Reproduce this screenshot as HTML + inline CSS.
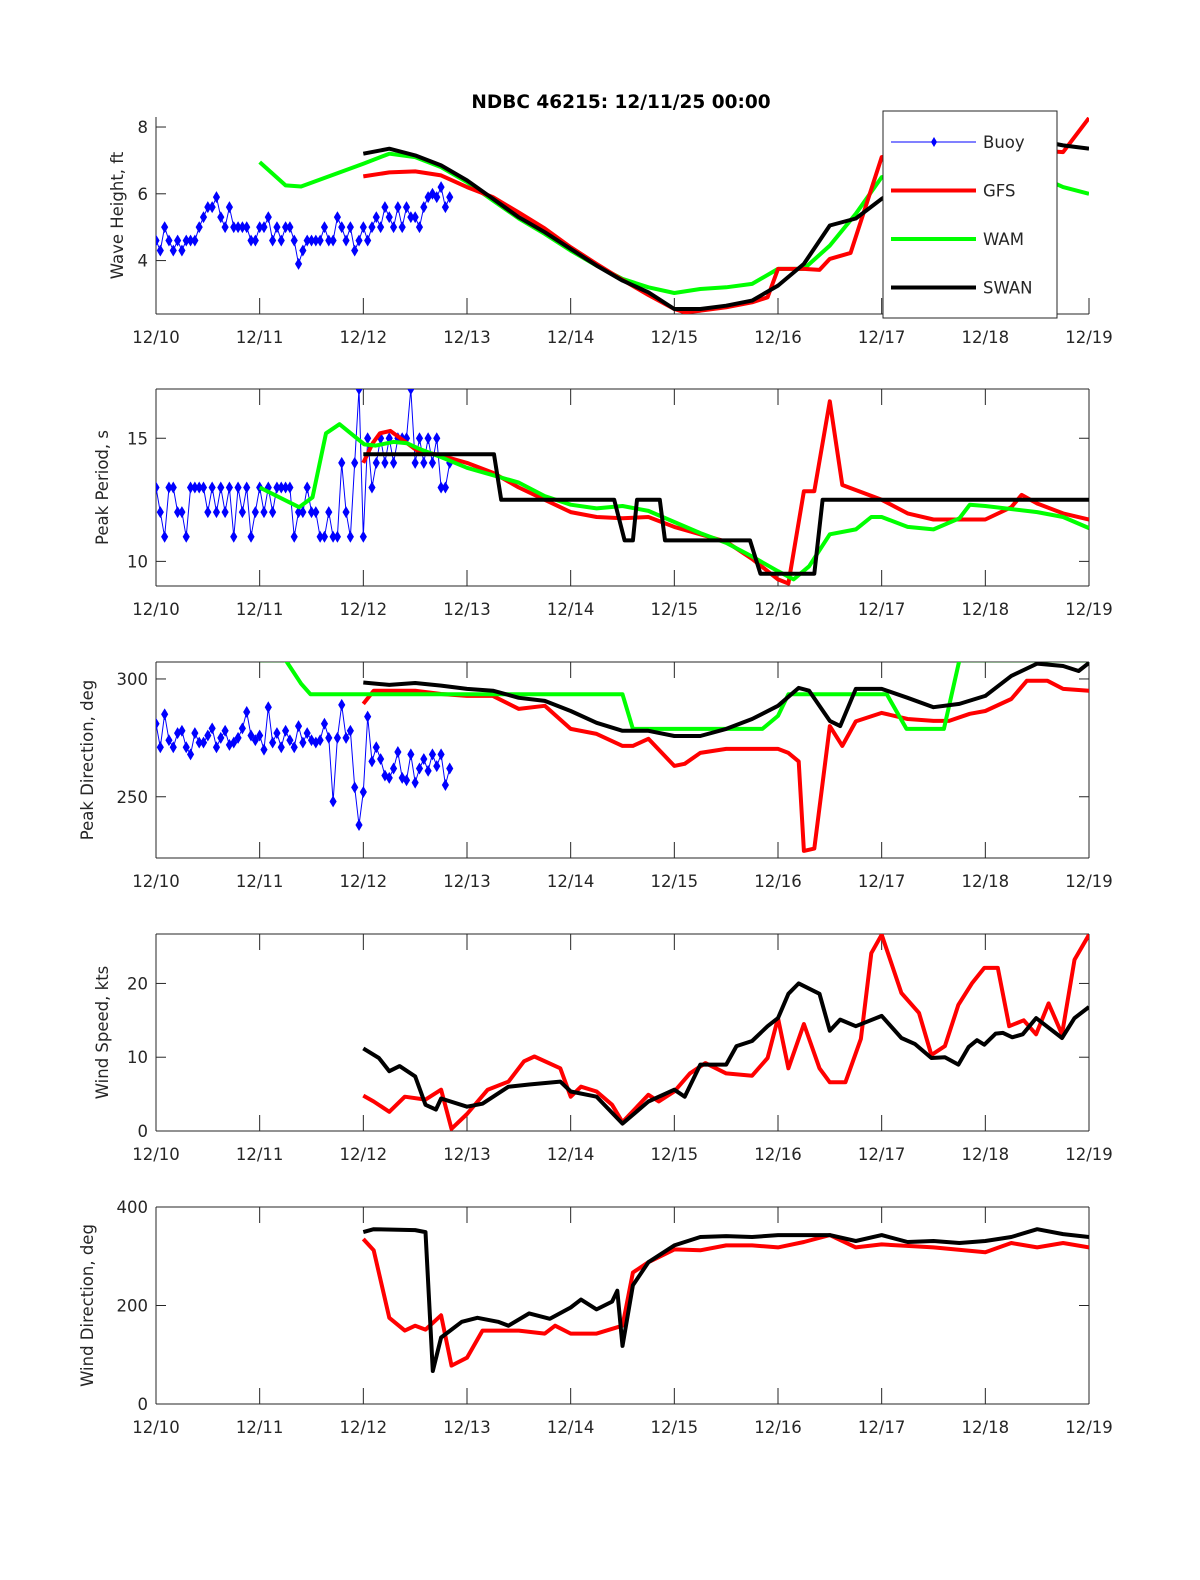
<!DOCTYPE html>
<html><head><meta charset="utf-8"><style>
html,body{margin:0;padding:0;background:#fff;}
svg text{font-family:"DejaVu Sans","Liberation Sans",sans-serif;font-size:16.5px;fill:#262626;}
</style></head><body>
<svg id="fig" width="1200" height="1575" viewBox="0 0 1200 1575" xmlns="http://www.w3.org/2000/svg">
<rect width="1200" height="1575" fill="#fff"/>
<text x="621" y="108" text-anchor="middle" style="font-weight:bold;fill:#000;font-size:18.5px">NDBC 46215: 12/11/25 00:00</text>
</svg>
<script>
// ---- shared axis data ----
const dayLabels = ["12/10","12/11","12/12","12/13","12/14","12/15","12/16","12/17","12/18","12/19"];

// ---- buoy observations (hourly from 12/10 00:00) ----
const buoyH = [4.6,4.3,5.0,4.6,4.3,4.6,4.3,4.6,4.6,4.6,5.0,5.3,5.6,5.6,5.9,5.3,5.0,5.6,5.0,5.0,5.0,5.0,4.6,4.6,5.0,5.0,5.3,4.6,5.0,4.6,5.0,5.0,4.6,3.9,4.3,4.6,4.6,4.6,4.6,5.0,4.6,4.6,5.3,5.0,4.6,5.0,4.3,4.6,5.0,4.6,5.0,5.3,5.0,5.6,5.3,5.0,5.6,5.0,5.6,5.3,5.3,5.0,5.6,5.9,6.0,5.9,6.2,5.6,5.9];
const buoyP = [13,12,11,13,13,12,12,11,13,13,13,13,12,13,12,13,12,13,11,13,12,13,11,12,13,12,13,12,13,13,13,13,11,12,12,13,12,12,11,11,12,11,11,14,12,11,14,17,11,15,13,14,15,14,15,14,15,15,15,17,14,15,14,15,14,15,13,13,14];
const buoyD = [281,271,285,274,271,277,278,271,268,277,273,273,276,279,271,275,278,272,273,275,279,286,276,274,276,270,288,273,277,271,278,274,271,280,273,277,274,273,274,281,275,248,275,289,275,278,254,238,252,284,265,271,266,259,258,262,269,258,257,268,256,262,266,261,268,263,268,255,262];

// ---- panel 1: wave height (ft) ----
const gfsT1 = [2,2.25,2.5,2.75,3,3.25,3.5,3.75,4,4.25,4.5,4.75,5,5.1,5.25,5.5,5.75,5.9,6,6.25,6.4,6.5,6.7,7,7.5,8,8.5,8.75,9];
const gfsH  = [6.52,6.64,6.67,6.55,6.2,5.9,5.44,4.96,4.4,3.9,3.42,2.97,2.55,2.45,2.5,2.6,2.75,2.9,3.75,3.75,3.72,4.05,4.23,7.1,7.3,7.2,7.3,7.25,8.27];
const wamT1 = [1,1.25,1.4,2,2.25,2.5,2.75,3,3.25,3.5,3.75,4,4.25,4.5,4.75,5,5.25,5.5,5.75,6,6.25,6.5,6.75,7,7.5,8,8.5,8.75,9];
const wamH  = [6.95,6.25,6.22,6.9,7.2,7.1,6.8,6.35,5.8,5.26,4.8,4.3,3.85,3.45,3.2,3.03,3.15,3.2,3.3,3.75,3.75,4.45,5.4,6.5,6.6,6.7,6.55,6.2,6.0];
const swanT1 = [2,2.25,2.5,2.75,3,3.25,3.5,3.75,4,4.25,4.5,4.75,5,5.25,5.5,5.75,6,6.25,6.5,6.75,7,7.5,8,8.5,8.75,9];
const swanH  = [7.2,7.35,7.15,6.85,6.4,5.85,5.3,4.85,4.35,3.85,3.4,3.05,2.55,2.55,2.65,2.8,3.25,3.9,5.05,5.26,5.85,6.8,7.2,7.6,7.45,7.35];

// ---- panel 2: peak period (s) ----
const gfsT2 = [2,2.09,2.16,2.26,2.39,2.52,2.75,3,3.25,3.5,3.75,4,4.25,4.5,4.75,5,5.25,5.5,5.75,6,6.1,6.25,6.35,6.5,6.62,7,7.25,7.5,7.75,8,8.25,8.35,8.5,8.75,9];
const gfsP  = [14.0,14.8,15.2,15.3,14.9,14.5,14.3,14.0,13.6,13.0,12.5,12.0,11.8,11.75,11.8,11.4,11.1,10.8,10.1,9.27,9.1,12.85,12.85,16.5,13.1,12.5,11.95,11.7,11.7,11.7,12.2,12.7,12.35,11.95,11.7];
const wamT2 = [1,1.38,1.51,1.64,1.77,2.01,2.12,2.29,2.42,2.55,2.74,3,3.25,3.5,3.75,4,4.25,4.5,4.75,5,5.25,5.5,5.75,6,6.15,6.3,6.5,6.75,6.9,7,7.25,7.5,7.75,7.85,8,8.5,8.75,9];
const wamP  = [13.0,12.2,12.6,15.2,15.57,14.75,14.7,14.85,14.8,14.55,14.25,13.8,13.5,13.2,12.65,12.3,12.15,12.25,12.05,11.6,11.15,10.75,10.2,9.6,9.27,9.8,11.1,11.3,11.8,11.8,11.4,11.3,11.75,12.3,12.25,12.0,11.8,11.35];
const swanT2 = [2,3.26,3.33,4.42,4.52,4.6,4.64,4.86,4.91,5.73,5.83,6.35,6.43,9];
const swanP  = [14.35,14.35,12.5,12.5,10.85,10.85,12.5,12.5,10.85,10.85,9.5,9.5,12.5,12.5];

// ---- panel 3: peak direction (deg) ----
const gfsT3 = [2,2.1,2.25,2.5,2.75,3,3.25,3.5,3.75,4,4.25,4.5,4.6,4.75,5,5.1,5.25,5.5,5.75,6,6.1,6.2,6.25,6.35,6.5,6.62,6.75,7,7.25,7.5,7.65,7.85,8,8.25,8.4,8.6,8.75,9];
const gfsD  = [289.4,295,295,295,293.6,292.8,292.8,287.3,288.6,278.8,276.7,271.6,271.6,274.6,263.1,264,268.6,270.3,270.3,270.3,268.6,265,227,228,280,271.6,282,285.6,283,282.2,282.2,285.2,286.4,291.5,299.2,299.2,295.8,295];
const wamT3 = [1,1.25,1.4,1.49,4.5,4.6,5.85,6.0,6.1,7.05,7.24,7.6,7.75,9];
const wamD  = [308,308,298,293.5,293.5,278.8,278.8,284.3,293.5,293.5,278.8,278.8,308,308];
const swanT3 = [2,2.25,2.5,2.75,3,3.25,3.5,3.75,4,4.25,4.5,4.75,5,5.25,5.5,5.75,6,6.2,6.3,6.5,6.6,6.75,7,7.25,7.5,7.75,8,8.25,8.5,8.75,8.9,9];
const swanD  = [298.5,297.5,298.3,297.2,295.8,295,292,290.7,286.4,281.4,278,278,275.8,275.8,278.8,283,288.6,296.2,295,282.2,280,295.8,295.8,292,288,289.4,292.8,301.3,306.5,305.5,303.4,306.8];

// ---- panel 4: wind speed (kts) ----
const gfsT4 = [2,2.1,2.25,2.4,2.6,2.75,2.85,3,3.2,3.4,3.55,3.65,3.9,4,4.1,4.25,4.4,4.5,4.75,4.85,5,5.15,5.3,5.5,5.75,5.9,6,6.1,6.25,6.4,6.5,6.65,6.8,6.9,7,7.19,7.36,7.48,7.61,7.74,7.87,7.99,8.12,8.23,8.37,8.49,8.61,8.74,8.86,9];
const gfsW  = [4.8,4.0,2.6,4.65,4.25,5.6,0.3,2.3,5.6,6.7,9.45,10.1,8.5,4.65,6.0,5.35,3.55,1.2,4.9,4.0,5.35,7.8,9.2,7.8,7.5,9.9,15.3,8.5,14.5,8.5,6.6,6.6,12.5,24.1,26.6,18.7,16,10.3,11.5,17.1,20,22.1,22.1,14.2,15,13.1,17.3,13.1,23.2,26.6];
const swanT4 = [2,2.15,2.25,2.35,2.5,2.6,2.7,2.75,3,3.15,3.4,3.6,3.9,4,4.25,4.5,4.75,5,5.1,5.25,5.5,5.6,5.75,5.9,6,6.1,6.2,6.4,6.5,6.6,6.75,7,7.19,7.32,7.48,7.61,7.74,7.84,7.92,7.99,8.1,8.17,8.26,8.36,8.49,8.61,8.74,8.86,9];
const swanW  = [11.2,9.9,8.1,8.8,7.4,3.55,2.9,4.4,3.3,3.7,6.0,6.3,6.7,5.35,4.65,1.0,4.0,5.6,4.65,9.0,9.0,11.5,12.2,14.2,15.3,18.6,20,18.6,13.6,15.1,14.2,15.6,12.6,11.8,9.9,10,9.0,11.4,12.3,11.7,13.2,13.3,12.7,13.1,15.3,14,12.6,15.3,16.8];

// ---- panel 5: wind direction (deg) ----
const gfsT5 = [2,2.1,2.25,2.4,2.5,2.6,2.75,2.85,3,3.15,3.5,3.75,3.85,4,4.25,4.5,4.6,4.75,5,5.25,5.5,5.75,6,6.25,6.5,6.75,7,7.5,8,8.25,8.5,8.75,9];
const gfsWD = [335,312,175,149,159,151,180,78,94,149,149,143,159,143,143,159,267,288,314,312,322,322,318,329,343,318,324,318,308,327,318,327,318];
const swanT5 = [2,2.1,2.5,2.6,2.67,2.75,2.95,3.1,3.3,3.4,3.6,3.8,4,4.1,4.25,4.4,4.45,4.5,4.6,4.75,5,5.25,5.5,5.75,6,6.25,6.5,6.75,7,7.25,7.5,7.75,8,8.25,8.5,8.75,9];
const swanWD = [349,355,353,349,67,135,167,175,167,159,184,173,196,212,192,208,230,118,241,288,322,339,341,339,343,343,343,331,343,329,331,327,331,339,355,345,339];

const NS = "http://www.w3.org/2000/svg";
const svg = document.getElementById('fig');
const X0 = 156, X1 = 1089, DAYS = 9;
function xs(d){ return X0 + (X1 - X0) * d / DAYS; }
function mk(tag, attrs, parent){
  const e = document.createElementNS(NS, tag);
  for (const k in attrs) e.setAttribute(k, attrs[k]);
  (parent || svg).appendChild(e);
  return e;
}
const panels = [
  {key:'wave-height', top:117, bot:314, min:2.4, max:8.3, ticks:[4,6,8], label:'Wave Height, ft', lx:123, box:false},
  {key:'peak-period', top:389, bot:586, min:9, max:17, ticks:[10,15], label:'Peak Period, s', lx:108, box:true},
  {key:'peak-direction', top:662, bot:858, min:224, max:307.2, ticks:[250,300], label:'Peak Direction, deg', lx:93, box:true},
  {key:'wind-speed', top:934, bot:1131, min:0, max:26.7, ticks:[0,10,20], label:'Wind Speed, kts', lx:108, box:true},
  {key:'wind-direction', top:1207, bot:1404, min:0, max:400, ticks:[0,200,400], label:'Wind Direction, deg', lx:93, box:true}
];
function ys(p, v){ return p.bot - (p.bot - p.top) * (v - p.min) / (p.max - p.min); }

panels.forEach(function(p, i){
  const g = mk('g', {});
  
  
  const cp = mk('clipPath', {id:'clip' + i}, g);
  mk('rect', {x:X0, y:p.top, width:X1 - X0, height:p.bot - p.top}, cp);
  const ax = mk('g', {stroke:'#262626', 'stroke-width':1, fill:'none'}, g);
  
  
  mk('line', {x1:X0, y1:p.top, x2:X0, y2:p.bot}, ax);
  mk('line', {x1:X0, y1:p.bot, x2:X1, y2:p.bot}, ax);
  if (p.box){
    mk('line', {x1:X0, y1:p.top, x2:X1, y2:p.top}, ax);
    mk('line', {x1:X1, y1:p.top, x2:X1, y2:p.bot}, ax);
  }
  dayLabels.forEach(function(lab, d){
    const x = xs(d);
    mk('line', {x1:x, y1:p.bot, x2:x, y2:p.bot - 16}, ax);
    if (p.box) mk('line', {x1:x, y1:p.top, x2:x, y2:p.top + 16}, ax);
    const t = mk('text', {x:x, y:p.bot + 29, 'text-anchor':'middle'}, g);
    
    
    t.textContent = lab;
  });
  p.ticks.forEach(function(v){
    const y = ys(p, v);
    mk('line', {x1:X0, y1:y, x2:X0 + 10, y2:y}, ax);
    if (p.box) mk('line', {x1:X1, y1:y, x2:X1 - 10, y2:y}, ax);
    const t = mk('text', {x:X0 - 8, y:y + 6, 'text-anchor':'end'}, g);
    
    
    t.textContent = v;
  });
  const yl = mk('text', {x:p.lx, y:(p.top + p.bot) / 2, 'text-anchor':'middle', transform:'rotate(-90 ' + p.lx + ' ' + ((p.top + p.bot) / 2) + ')'}, g);
  
  
  yl.textContent = p.label;
  p.g = mk('g', {'clip-path':'url(#clip' + i + ')'}, g);
});

function line(pi, T, V, color, width, name){
  const p = panels[pi];
  const pts = T.map(function(t, k){ return xs(t).toFixed(1) + ',' + ys(p, V[k]).toFixed(1); }).join(' ');
  const pl = mk('polyline', {points:pts, fill:'none', stroke:color, 'stroke-width':width, 'stroke-linejoin':'round'}, p.g);
  
  
}
function buoy(pi, V, name){
  const p = panels[pi];
  const T = V.map(function(v, k){ return k / 24; });
  line(pi, T, V, '#0000ff', 1, name + '-line');
  T.forEach(function(t, k){
    const x = xs(t), y = ys(p, V[k]);
    const m = mk('polygon', {points:(x)+','+(y-5)+' '+(x+3)+','+y+' '+x+','+(y+5)+' '+(x-3)+','+y, fill:'#0000ff', stroke:'#0000ff', 'stroke-width':1}, p.g);
    
    
  });
}
const RED = '#ff0000', GRN = '#00ff00', BLK = '#000000';
line(0, wamT1, wamH, GRN, 4, 'wam-wave-height');
line(0, gfsT1, gfsH, RED, 4, 'gfs-wave-height');
line(0, swanT1, swanH, BLK, 4, 'swan-wave-height');
buoy(0, buoyH, 'buoy-wave-height');
buoy(1, buoyP, 'buoy-peak-period');
line(1, gfsT2, gfsP, RED, 4, 'gfs-peak-period');
line(1, wamT2, wamP, GRN, 4, 'wam-peak-period');
line(1, swanT2, swanP, BLK, 4, 'swan-peak-period');
buoy(2, buoyD, 'buoy-peak-direction');
line(2, gfsT3, gfsD, RED, 4, 'gfs-peak-direction');
line(2, wamT3, wamD, GRN, 4, 'wam-peak-direction');
line(2, swanT3, swanD, BLK, 4, 'swan-peak-direction');
line(3, gfsT4, gfsW, RED, 4, 'gfs-wind-speed');
line(3, swanT4, swanW, BLK, 4, 'swan-wind-speed');
line(4, gfsT5, gfsWD, RED, 4, 'gfs-wind-direction');
line(4, swanT5, swanWD, BLK, 4, 'swan-wind-direction');

// legend
const lg = mk('g', {});


mk('rect', {x:883, y:111, width:174, height:207, fill:'#fff', stroke:'#262626', 'stroke-width':1}, lg);
const legNames = ['Buoy','GFS','WAM','SWAN'];
const legColors = ['#0000ff', RED, GRN, BLK];
legNames.forEach(function(n, k){
  const y = 142 + k * 48.5;
  const e = mk('g', {}, lg);
  
  
  mk('line', {x1:891, y1:y, x2:976, y2:y, stroke:legColors[k], 'stroke-width':k === 0 ? 1 : 4}, e);
  if (k === 0) mk('polygon', {points:'934,'+(y-5)+' 937,'+y+' 934,'+(y+5)+' 931,'+y, fill:'#0000ff'}, e);
  const t = mk('text', {x:983, y:y + 6}, e);
  t.textContent = n;
});
</script>
</body></html>
